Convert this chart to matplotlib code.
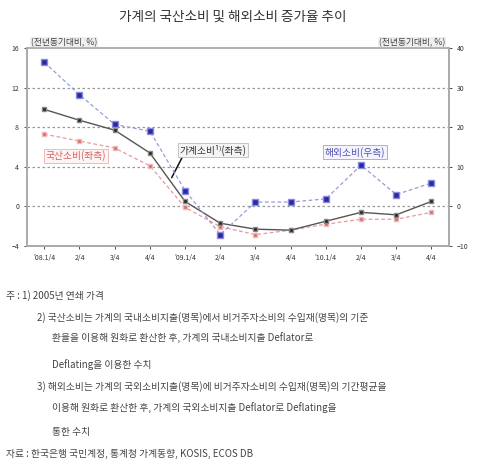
import matplotlib
matplotlib.use("Agg")
import matplotlib.pyplot as plt
import numpy as np

plt.rcParams['font.family'] = ['Noto Sans CJK KR', 'DejaVu Sans']

quarters = ["'08.1/4", "2/4", "3/4", "4/4", "'09.1/4", "2/4", "3/4", "4/4",
            "'10.1/4", "2/4", "3/4", "4/4"]
household = [9.8, 8.7, 7.7, 5.4, 0.5, -1.7, -2.3, -2.4, -1.5, -0.6, -0.85, 0.5]
domestic = [7.3, 6.6, 5.9, 4.1, -0.1, -2.05, -2.85, -2.4, -1.8, -1.3, -1.3, -0.6]
overseas = [36.4, 28.2, 20.7, 19.0, 4.0, -7.1, 1.1, 1.1, 1.9, 10.4, 3.0, 5.9]

left_ticks = [-4, 0, 4, 8, 12, 16]
right_ticks = [-10, 0, 10, 20, 30, 40]

notes = [
    (6, 295.5, "주 : 1) 2005년 연쇄 가격"),
    (37, 318, "2) 국산소비는 가계의 국내소비지출(명목)에서 비거주자소비의 수입재(명목)의 기준"),
    (52, 337.5, "환율을 이용해 원화로 환산한 후, 가계의 국내소비지출 Deflator로"),
    (52, 365, "Deflating을 이용한 수치"),
    (37, 386.5, "3) 해외소비는 가계의 국외소비지출(명목)에 비거주자소비의 수입재(명목)의 기간평균을"),
    (52, 408, "이용해 원화로 환산한 후, 가계의 국외소비지출 Deflator로 Deflating을"),
    (52, 431.5, "통한 수치"),
    (6, 454, "자료 : 한국은행 국민계정, 통계청 가계동향, KOSIS, ECOS DB"),
]

W, H = 480, 467
fig = plt.figure(figsize=(W / 100, H / 100), dpi=100)
ax = fig.add_axes([26.7 / W, 1 - 246 / H, (449 - 26.7) / W, (246 - 48) / H])
ax2 = ax.twinx()

x = np.arange(len(quarters))

ax.plot(x, domestic, color='#e89a9a', lw=0.9, ls=(0, (3, 2)),
        marker='s', ms=3.2, mfc='#d46a6a', mec='#f0b8b8', zorder=3)
ax.plot(x, household, color='#555555', lw=1.0,
        marker='s', ms=3.2, mfc='#222222', mec='#888888', zorder=4)
ax2.plot(x, overseas, color='#9a9ad8', lw=0.9, ls=(0, (3, 2)),
         marker='s', ms=4.5, mfc='#2a2aa0', mec='#8a8ae0', zorder=3)

ax.set_xlim(-0.5, 11.5)
ax.set_ylim(-4, 16)
ax2.set_ylim(-10, 40)
ax.set_yticks(left_ticks)
ax2.set_yticks(right_ticks)
ax.set_xticks(x)
ax.set_xticklabels(quarters)

for y in [0, 4, 8, 12]:
    ax.axhline(y, color='#999999', lw=0.9, ls=(0, (2, 2)), zorder=1)

for a in (ax, ax2):
    for s in a.spines.values():
        s.set_color('#aaaaaa')
        s.set_linewidth(1.2)
    a.tick_params(labelsize=5, colors='#333333', length=2, width=0.6)
ax.spines['top'].set_color('#cccccc')
ax.tick_params(axis='x', pad=4)

ax.text(0.01, 1.005, "(전년동기대비, %)", transform=ax.transAxes, fontsize=6.3,
        ha='left', va='bottom', color='#444444',
        bbox=dict(boxstyle='square,pad=0.1', fc='#eeeeee', ec='none'))
ax.text(0.99, 1.005, "(전년동기대비, %)", transform=ax.transAxes, fontsize=6.3,
        ha='right', va='bottom', color='#444444',
        bbox=dict(boxstyle='square,pad=0.1', fc='#eeeeee', ec='none'))

ax.text(0.9, 5.1, "국산소비(좌측)", fontsize=7, color='#d06060', ha='center', va='center',
        bbox=dict(boxstyle='square,pad=0.15', fc='#fff4f4', ec='#f0b0b0', lw=0.6), zorder=5)
ax.annotate("가계소비¹⁾(좌측)", xy=(3.62, 2.9), xytext=(3.85, 5.7),
            fontsize=7, color='#333333', ha='left', va='center',
            bbox=dict(boxstyle='square,pad=0.15', fc='#f4f4f4', ec='#bbbbbb', lw=0.6),
            arrowprops=dict(arrowstyle='-', color='#111111', lw=1.1,
                            shrinkA=0, shrinkB=0, relpos=(0.05, 0.0)), zorder=5)
ax2.text(8.83, 13.7, "해외소비(우측)", fontsize=7, color='#5050b0', ha='center', va='center',
         bbox=dict(boxstyle='square,pad=0.15', fc='#f4f4ff', ec='#a0a0e0', lw=0.6), zorder=5)

fig.text(0.485, 1 - 17 / H, "가계의 국산소비 및 해외소비 증가율 추이", fontsize=9.8,
         ha='center', va='center', color='#333333')

for nx, ny, t in notes:
    fig.text(nx / W, 1 - ny / H, t, fontsize=7, ha='left', va='center', color='#444444')

fig.savefig("out.png", dpi=100)
